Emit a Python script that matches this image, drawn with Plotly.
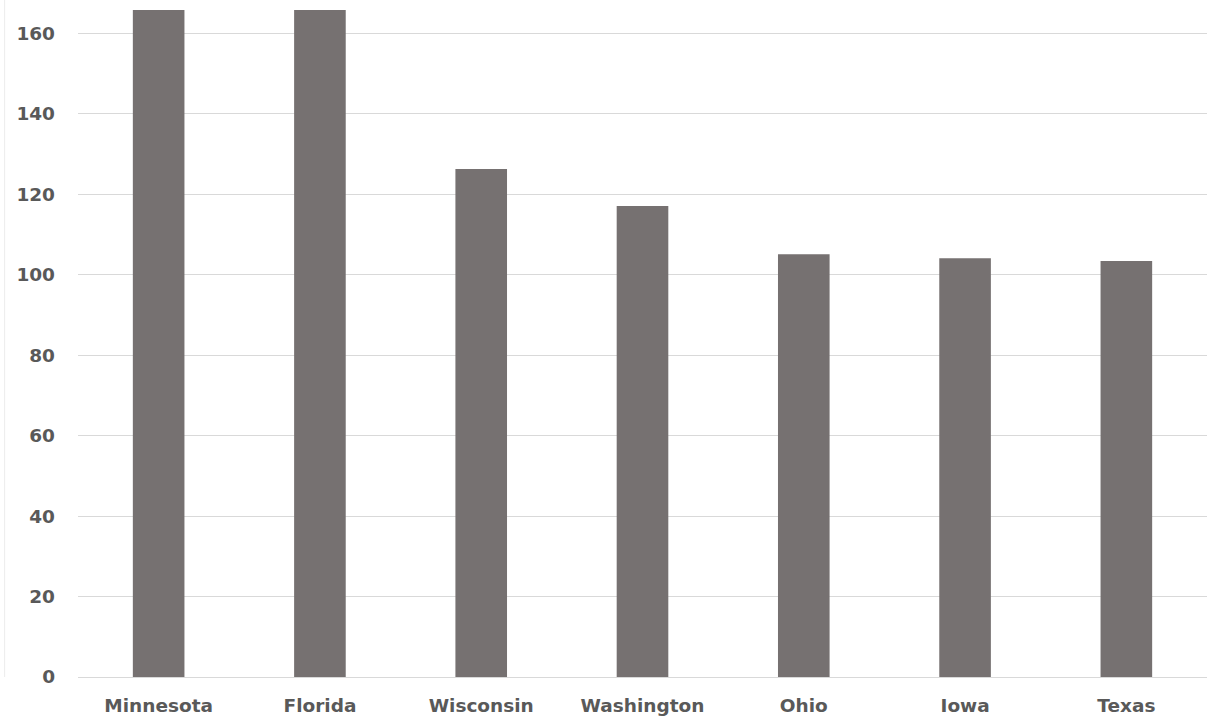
import plotly.graph_objects as go

states = ["Minnesota", "Florida", "Wisconsin", "Washington", "Ohio", "Iowa", "Texas"]
values = [172, 171, 126.3, 117.1, 105.1, 104.1, 103.4]
y_ticks = [0, 20, 40, 60, 80, 100, 120, 140, 160]

fig = go.Figure(go.Bar(
    x=states, y=values,
    marker=dict(color="#767171", line=dict(width=0)),
    width=0.32,
))

tick_font = dict(family="DejaVu Sans", size=18.5, color="#595959", weight="bold")

fig.update_layout(
    width=1216, height=721,
    margin=dict(l=78, r=9, t=10, b=44),
    plot_bgcolor="white", paper_bgcolor="white",
    showlegend=False,
    shapes=[dict(type="line", xref="paper", yref="paper", x0=-0.065, x1=-0.065, y0=0, y1=1.02,
                 line=dict(color="#ececec", width=1))],
)
fig.update_xaxes(showgrid=False, showline=False, ticks="", ticklabelstandoff=15,
                 automargin=False, tickfont=tick_font)
fig.update_yaxes(range=[0, 165.8], tickvals=y_ticks, showgrid=True, gridcolor="#d9d9d9", gridwidth=1,
                 zeroline=True, zerolinecolor="#d9d9d9", zerolinewidth=1, ticks="",
                 ticklabelstandoff=22, automargin=False, tickfont=tick_font)

fig.write_html("out.html")
